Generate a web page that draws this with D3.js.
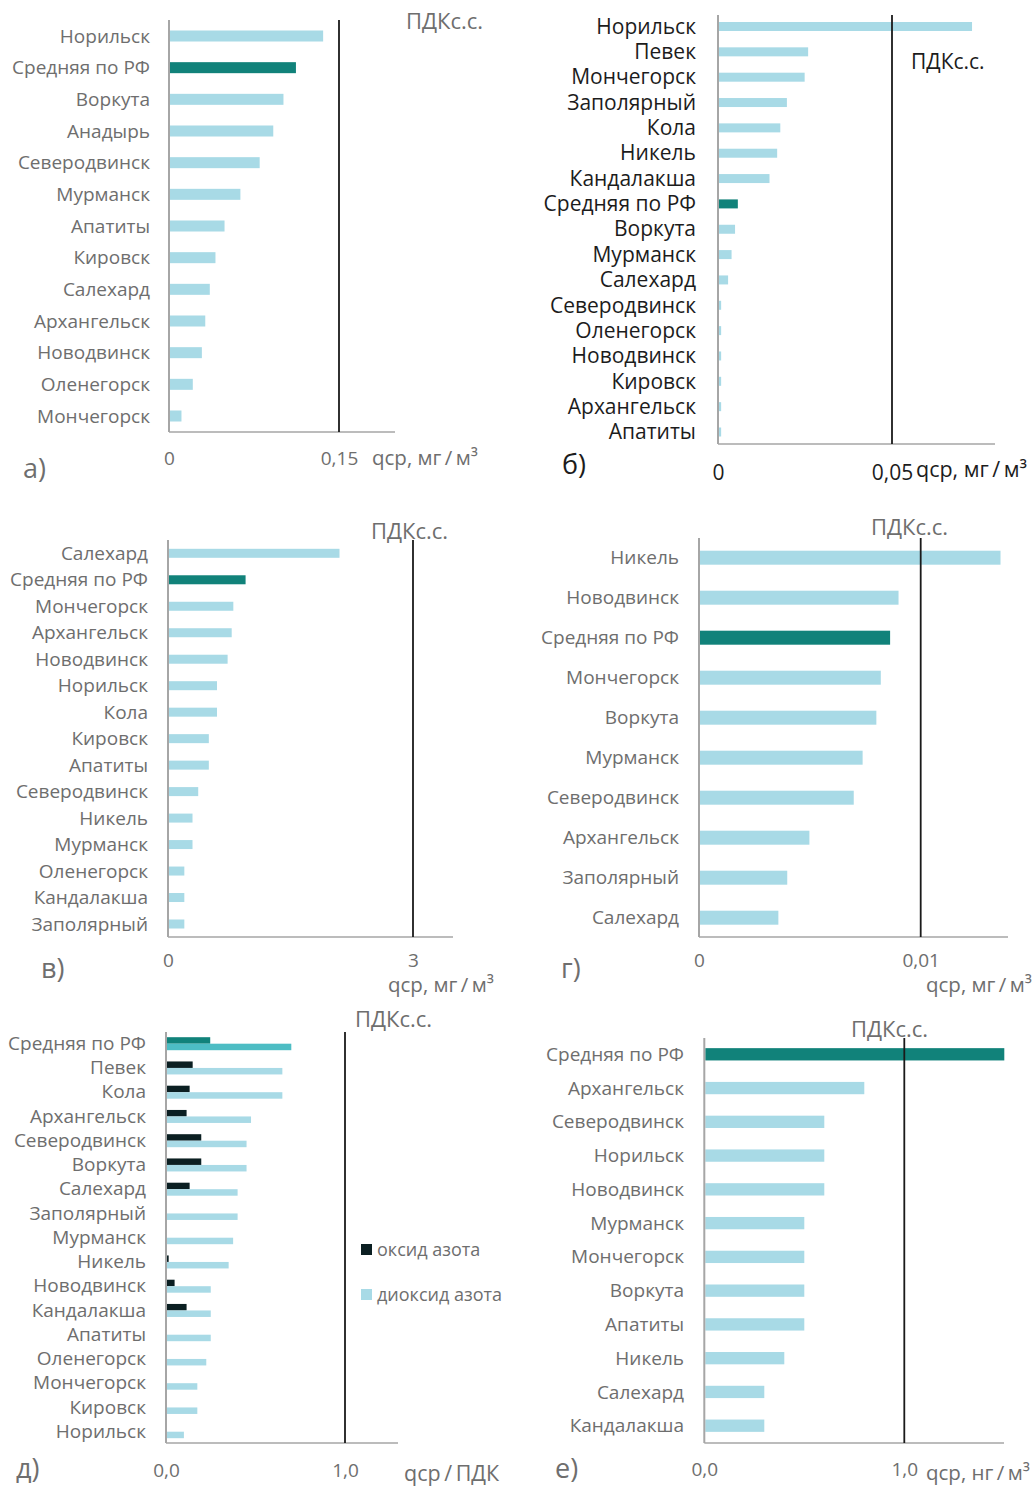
<!DOCTYPE html>
<html><head><meta charset="utf-8">
<script src="https://cdn.jsdelivr.net/npm/d3@7"></script>
<style>
body{margin:0;background:#fff}
svg{display:block}
text{font-family:"Open Sans","Noto Sans",sans-serif}
</style>
</head><body>
<svg id="chart" width="1035" height="1488"></svg>
<script>
// ---------- DATA ----------
// а)
const catsA = ["Норильск","Средняя по РФ","Воркута","Анадырь","Северодвинск","Мурманск","Апатиты","Кировск","Салехард","Архангельск","Новодвинск","Оленегорск","Мончегорск"];
const valsA = [0.136,0.112,0.101,0.092,0.080,0.063,0.049,0.041,0.036,0.032,0.029,0.021,0.011];
const ticksA = [0, 0.15];
const tickLabelsA = ["0","0,15"];
// б)
const catsB = ["Норильск","Певек","Мончегорск","Заполярный","Кола","Никель","Кандалакша","Средняя по РФ","Воркута","Мурманск","Салехард","Северодвинск","Оленегорск","Новодвинск","Кировск","Архангельск","Апатиты"];
const valsB = [0.073,0.0259,0.0249,0.0198,0.0179,0.0170,0.0148,0.0057,0.0049,0.0039,0.0029,0.0009,0.0009,0.0009,0.0009,0.0009,0.0009];
const ticksB = [0, 0.05];
const tickLabelsB = ["0","0,05"];
// в)
const catsC = ["Салехард","Средняя по РФ","Мончегорск","Архангельск","Новодвинск","Норильск","Кола","Кировск","Апатиты","Северодвинск","Никель","Мурманск","Оленегорск","Кандалакша","Заполярный"];
const valsC = [2.10,0.95,0.80,0.78,0.73,0.60,0.60,0.50,0.50,0.37,0.30,0.30,0.20,0.20,0.20];
const ticksC = [0, 3];
const tickLabelsC = ["0","3"];
// г)
const catsD = ["Никель","Новодвинск","Средняя по РФ","Мончегорск","Воркута","Мурманск","Северодвинск","Архангельск","Заполярный","Салехард"];
const valsD = [0.0136,0.0090,0.00862,0.0082,0.0080,0.00738,0.00698,0.00498,0.00398,0.00358];
const ticksD = [0, 0.01];
const tickLabelsD = ["0","0,01"];
// д)
const catsE = ["Средняя по РФ","Певек","Кола","Архангельск","Северодвинск","Воркута","Салехард","Заполярный","Мурманск","Никель","Новодвинск","Кандалакша","Апатиты","Оленегорск","Мончегорск","Кировск","Норильск"];
const oxideE   = [0.247,0.149,0.132,0.115,0.197,0.197,0.132,0,0,0.015,0.048,0.115,0,0,0,0,0.004];
const dioxideE = [0.70,0.65,0.65,0.475,0.45,0.45,0.40,0.40,0.375,0.35,0.25,0.25,0.25,0.225,0.175,0.175,0.10];
const seriesE = ["оксид азота","диоксид азота"];
const ticksE = [0, 1];
const tickLabelsE = ["0,0","1,0"];
// е)
const catsF = ["Средняя по РФ","Архангельск","Северодвинск","Норильск","Новодвинск","Мурманск","Мончегорск","Воркута","Апатиты","Никель","Салехард","Кандалакша"];
const valsF = [1.50,0.80,0.60,0.60,0.60,0.50,0.50,0.50,0.50,0.40,0.30,0.30];
const ticksF = [0, 1];
const tickLabelsF = ["0,0","1,0"];

// ---------- STYLE ----------
const LIGHT = "#a8dae6", TEAL = "#11827a", TEAL2 = "#4dbdc4", DARK = "#0b1f22";
const GRAY_TXT = "#6e6e6e", BLACK_TXT = "#1c1c1c", AXIS = "#a6a6a6", PDK = "#1a1a1a";
const AVG = "Средняя по РФ";
const FONT = '"Open Sans","Noto Sans",sans-serif';

const svg = d3.select("#chart");

function panel(o) {
  const g = svg.append("g");
  const x = d3.scaleLinear().domain([0, o.ticks[1]]).range([o.x0, o.xPdk]);
  const y = d3.scalePoint().domain(o.cats).range([o.c0, o.c1]);
  const txt = o.dark ? BLACK_TXT : GRAY_TXT;

  if (o.vals) {
    g.selectAll("rect.bar").data(o.cats).join("rect")
      .attr("x", x(0) + 1)
      .attr("y", d => y(d) - o.barH / 2)
      .attr("width", (d, i) => Math.max(0, x(o.vals[i]) - x(0) - 1))
      .attr("height", o.barH)
      .attr("fill", d => d === AVG ? TEAL : LIGHT);
  } else {
    g.selectAll("rect.ox").data(o.cats).join("rect")
      .attr("x", x(0) + 1)
      .attr("y", d => y(d) - o.barH)
      .attr("width", (d, i) => Math.max(0, x(o.ox[i]) - x(0) - 1))
      .attr("height", o.barH)
      .attr("fill", d => d === AVG ? TEAL : DARK);
    g.selectAll("rect.di").data(o.cats).join("rect")
      .attr("x", x(0) + 1)
      .attr("y", d => y(d))
      .attr("width", (d, i) => Math.max(0, x(o.di[i]) - x(0) - 1))
      .attr("height", o.barH)
      .attr("fill", d => d === AVG ? TEAL2 : LIGHT);
  }

  const ya = d3.axisLeft(y).tickSize(0).tickPadding(o.x0 - o.labelRight);
  const yg = g.append("g").attr("transform", `translate(${o.x0},0)`).call(ya);
  yg.select(".domain").remove();
  yg.selectAll("text").attr("fill", txt).attr("font-size", o.fs).attr("dy", o.labelDy || "0.32em")
    .style("font-family", FONT);

  g.append("line").attr("x1", o.x0).attr("x2", o.x0).attr("y1", o.yTop).attr("y2", o.yBot)
    .attr("stroke", AXIS).attr("stroke-width", 2);
  g.append("line").attr("x1", o.x0).attr("x2", o.xEnd).attr("y1", o.yBot).attr("y2", o.yBot)
    .attr("stroke", AXIS).attr("stroke-width", 1.5);
  g.append("line").attr("x1", x(o.ticks[1])).attr("x2", x(o.ticks[1])).attr("y1", o.yTop).attr("y2", o.yBot)
    .attr("stroke", PDK).attr("stroke-width", 1.8);

  const xa = d3.axisBottom(x).tickValues(o.ticks).tickSize(0).tickPadding(0)
    .tickFormat((d, i) => o.tickLabels[i]);
  const xg = g.append("g").attr("transform", `translate(0,${o.tickY})`).call(xa);
  xg.select(".domain").remove();
  xg.selectAll("text").attr("fill", txt).attr("font-size", o.tickFs || 19).attr("dy", "0.35em")
    .style("font-family", FONT);

  g.append("text").attr("x", o.pdkX).attr("y", o.pdkY).attr("dy", "0.35em")
    .attr("font-size", o.pdkFs || 22).attr("fill", txt).text("ПДКс.с.");
  g.append("text").attr("x", o.unitX).attr("y", o.unitY).attr("dy", "0.35em")
    .attr("font-size", o.unitFs || 20.5).attr("fill", txt).text(o.unit);
  g.append("text").attr("x", o.letX).attr("y", o.letY).attr("dy", "0.35em")
    .attr("font-size", 27).attr("fill", txt).text(o.letter);
  return {g, x, y};
}

const UNIT_MG = "qср, мг\u2009/\u2009м³";
const UNIT_NG = "qср, нг\u2009/\u2009м³";

panel({cats: catsA, vals: valsA, ticks: ticksA, tickLabels: tickLabelsA,
  x0: 169, xPdk: 339, xEnd: 395, yTop: 20, yBot: 432, c0: 36, c1: 416, barH: 11,
  labelRight: 150, fs: 19, tickY: 458, pdkX: 406, pdkY: 21, unitX: 372, unitY: 458,
  unit: UNIT_MG, letX: 23, letY: 469, letter: "а)"});

panel({cats: catsB, vals: valsB, ticks: ticksB, tickLabels: tickLabelsB,
  x0: 718, xPdk: 892, xEnd: 995, yTop: 15, yBot: 444, c0: 26.5, c1: 432, barH: 9,
  labelRight: 696, fs: 21, tickY: 473, tickFs: 21, pdkX: 911, pdkY: 62, pdkFs: 21, unitX: 916, unitY: 469,
  unitFs: 21.5, unit: UNIT_MG, letX: 562, letY: 465, letter: "б)", dark: true});

panel({cats: catsC, vals: valsC, ticks: ticksC, tickLabels: tickLabelsC,
  x0: 168, xPdk: 413, xEnd: 453, yTop: 540, yBot: 937, c0: 553.3, c1: 924, barH: 9,
  labelRight: 148, fs: 19, tickY: 960, pdkX: 371, pdkY: 531, unitX: 388, unitY: 985,
  unit: UNIT_MG, letX: 41, letY: 969, letter: "в)"});

panel({cats: catsD, vals: valsD, ticks: ticksD, tickLabels: tickLabelsD,
  x0: 699, xPdk: 920.7, xEnd: 1008, yTop: 538, yBot: 937, c0: 557.7, c1: 917.7, barH: 14,
  labelRight: 679, fs: 19, tickY: 960, pdkX: 871, pdkY: 527, unitX: 926, unitY: 985,
  unit: UNIT_MG, letX: 561, letY: 969, letter: "г)"});

panel({cats: catsE, ox: oxideE, di: dioxideE, ticks: ticksE, tickLabels: tickLabelsE,
  x0: 166, xPdk: 345, xEnd: 398, yTop: 1032, yBot: 1443, c0: 1043.7, c1: 1431.7, barH: 6.5,
  labelRight: 146, fs: 19, tickY: 1470, pdkX: 355, pdkY: 1019, unitX: 404, unitY: 1473,
  unitFs: 21.5, unit: "qср\u2009/\u2009ПДК", letX: 16, letY: 1469, letter: "д)", labelDy: "0.3em"});

const leg = svg.append("g").selectAll("g").data(seriesE).join("g")
  .attr("transform", (d, i) => `translate(361,${1250 + i * 45})`);
leg.append("rect").attr("x", 0).attr("y", -6).attr("width", 11).attr("height", 11)
  .attr("fill", (d, i) => i === 0 ? DARK : LIGHT);
leg.append("text").attr("x", 16).attr("y", 0).attr("dy", "0.32em").attr("font-size", 18)
  .attr("fill", GRAY_TXT).text(d => d);

panel({cats: catsF, vals: valsF, ticks: ticksF, tickLabels: tickLabelsF,
  x0: 704.3, xPdk: 904.3, xEnd: 1004, yTop: 1038, yBot: 1443, c0: 1054.3, c1: 1425.7, barH: 12.3,
  labelRight: 684, fs: 19, tickY: 1469, pdkX: 851, pdkY: 1029, unitX: 926, unitY: 1473,
  unit: UNIT_NG, letX: 555, letY: 1469, letter: "е)"});
</script>
</body></html>
